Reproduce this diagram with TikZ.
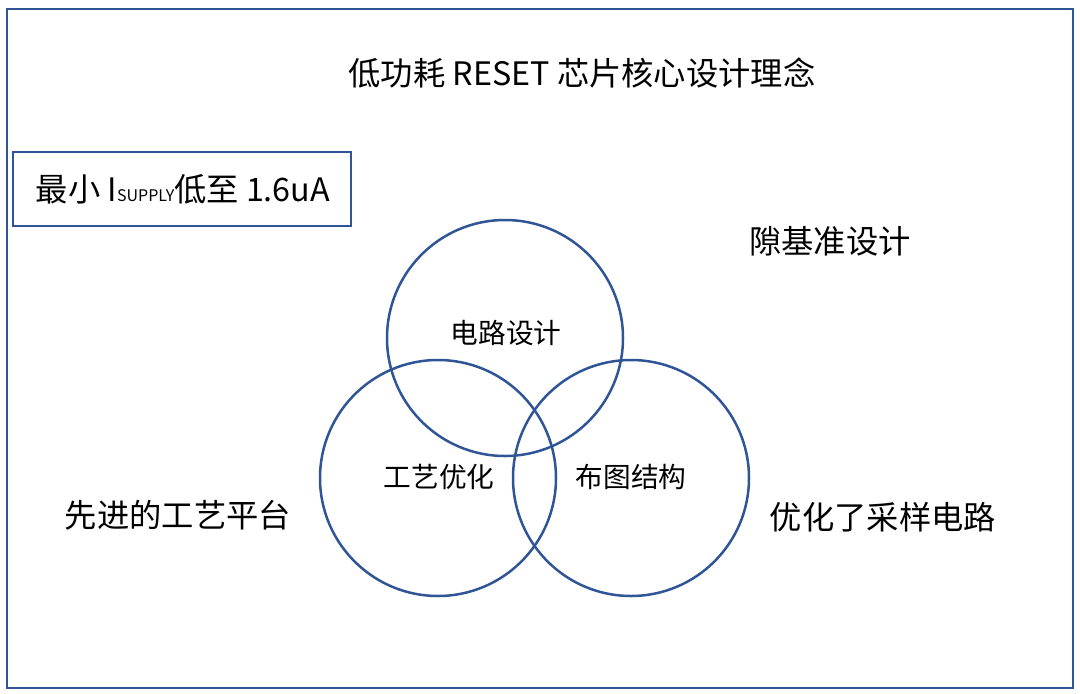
\documentclass[tikz,border=0pt]{standalone}
\usepackage{fontspec}
\setmainfont{Noto Sans CJK SC}
\definecolor{frameblue}{HTML}{2F5597}
\begin{document}
\begin{tikzpicture}[x=1pt,y=-1pt,
  bigtxt/.style={font=\fontsize{32.3}{36}\selectfont, inner sep=0pt},
  midtxt/.style={font=\fontsize{27.7}{31}\selectfont, inner sep=0pt},
  venn/.style={circle, draw=frameblue, line width=2.5pt, minimum size=236pt, inner sep=0pt}]
\useasboundingbox (0,0) rectangle (1080,694);
\node[draw=frameblue, line width=2.8pt, minimum width=1066pt, minimum height=679pt, inner sep=0pt] (frame) at (540,348.5) {};
\node[bigtxt] (title) at (582,73) {低功耗 RESET 芯片核心设计理念};
\node[draw=frameblue, line width=2.8pt, minimum width=338pt, minimum height=74pt, inner sep=0pt] (box) at (182,189) {};
\node[bigtxt] (boxtxt) at (183,189) {最小 I{\fontsize{16}{16}\selectfont SUPPLY}低至 1.6uA};
\node[bigtxt] (gap) at (830,241) {隙基准设计};
\node[venn] (ctop) at (505,338) {};
\node[venn] (cleft) at (438,478) {};
\node[venn] (cright) at (631,478) {};
\node[midtxt] (t1) at (506,333) {电路设计};
\node[midtxt] (t2) at (439,477) {工艺优化};
\node[midtxt] (t3) at (631,477) {布图结构};
\node[bigtxt] (left) at (178,515) {先进的工艺平台};
\node[bigtxt] (right) at (883,517) {优化了采样电路};
\end{tikzpicture}
\end{document}
